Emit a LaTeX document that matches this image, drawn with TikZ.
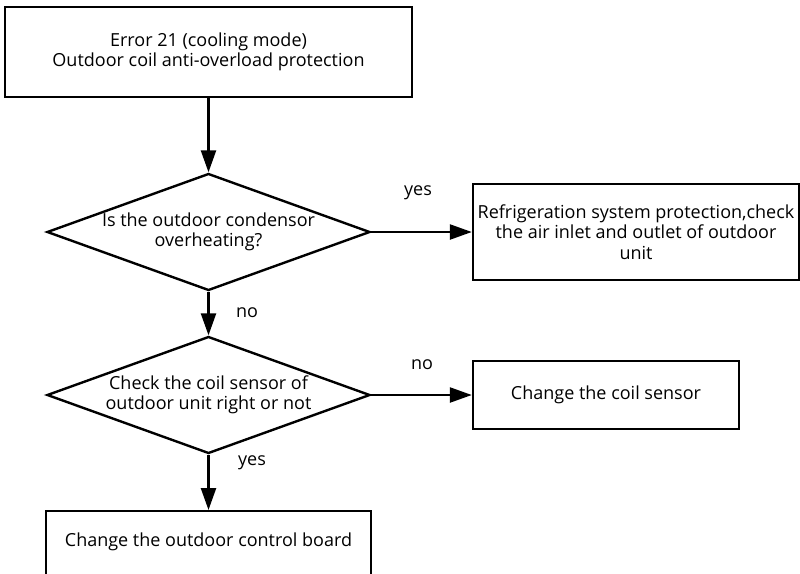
\documentclass[tikz,border=0pt]{standalone}
\usepackage{fontspec}
\setmainfont{Open Sans}
\usetikzlibrary{shapes.geometric,arrows.meta}
\tikzset{
  stepbox/.style={draw=black,line width=2.4pt,rectangle,inner sep=0pt,align=center,font=\fontsize{18}{20.5}\selectfont},
  decision/.style={draw=black,line width=2.4pt,diamond,aspect=2.76,inner sep=0pt,minimum width=323pt,minimum height=117pt,align=center,font=\fontsize{18}{20.5}\selectfont},
  flow/.style={line width=2.4pt,-{Triangle[length=22pt,width=15pt]}},
  lbl/.style={inner sep=0pt,font=\fontsize{18}{20}\selectfont}
}
\begin{document}
\begin{tikzpicture}[x=1pt,y=-1pt]
\useasboundingbox (0,0) rectangle (800,573);
\node[stepbox,minimum width=407pt,minimum height=90pt] (start) at (208.5,52) {Error 21 (cooling mode)\\Outdoor coil anti-overload protection};
\node[decision] (d1) at (208.5,232) {Is the outdoor condensor\\overheating?};
\node[stepbox,minimum width=326pt,minimum height=96pt] (r1) at (636,232) {Refrigeration system protection,check\\the air inlet and outlet of outdoor\\unit};
\node[decision] (d2) at (208.5,395) {Check the coil sensor of\\outdoor unit right or not};
\node[stepbox,minimum width=266pt,minimum height=68pt] (r2) at (606,395) {Change the coil sensor};
\node[stepbox,minimum width=325pt,anchor=north,text height=35pt,text depth=35pt] (b3) at (208.5,510) {Change the outdoor control board};
\draw[flow] (start) -- (d1);
\draw[flow] (d1) -- (r1);
\draw[flow] (d1) -- (d2);
\draw[flow] (d2) -- (r2);
\draw[flow] (d2) -- (b3);
\node[lbl] (yes1) at (418,193) {yes};
\node[lbl] (no1) at (247,313) {no};
\node[lbl] (no2) at (422,365) {no};
\node[lbl] (yes2) at (252,463) {yes};
\end{tikzpicture}
\end{document}
